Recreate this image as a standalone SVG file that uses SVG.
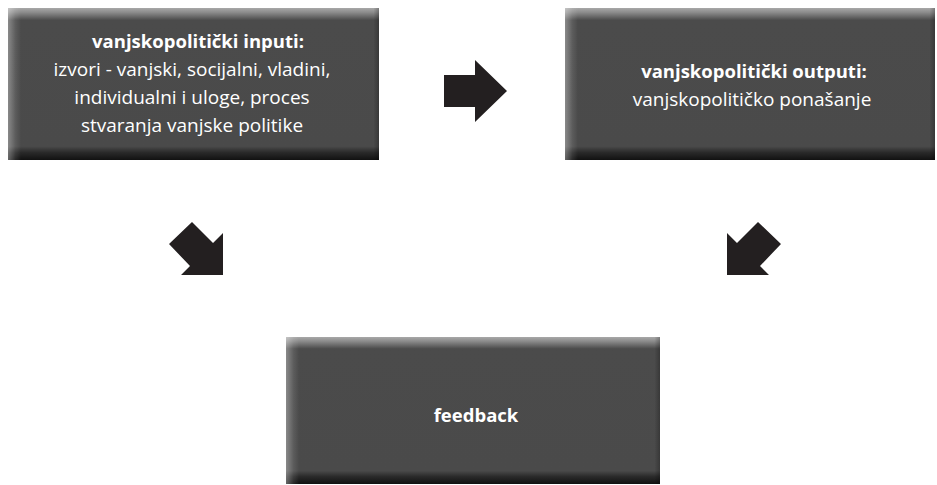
<svg xmlns="http://www.w3.org/2000/svg" width="937" height="485" viewBox="0 0 937 485">
<defs>
<linearGradient id="gv" x1="0" y1="0" x2="0" y2="1">
<stop offset="0" stop-color="#a8a8a8"/>
<stop offset="0.03" stop-color="#8a8a8a"/>
<stop offset="0.08" stop-color="#4b4b4b"/>
<stop offset="0.91" stop-color="#4a4a4a"/>
<stop offset="0.95" stop-color="#2a2a2a"/>
<stop offset="1" stop-color="#111111"/>
</linearGradient>
<linearGradient id="gh" x1="0" y1="0" x2="1" y2="0">
<stop offset="0" stop-color="#ffffff" stop-opacity="0.35"/>
<stop offset="0.02" stop-color="#ffffff" stop-opacity="0.1"/>
<stop offset="0.035" stop-color="#ffffff" stop-opacity="0"/>
<stop offset="0.985" stop-color="#000000" stop-opacity="0"/>
<stop offset="1" stop-color="#000000" stop-opacity="0.25"/>
</linearGradient>
</defs>
<style>
.box{fill:url(#gv)}
.sh{fill:url(#gh)}
.t{font-family:"Open Sans","Noto Sans",sans-serif;fill:#ffffff;text-anchor:middle;font-size:19px}
.b{font-weight:bold;font-size:18.5px}
.arr{fill:#231f20}
</style>
<g id="node-inputs">
<rect class="box" x="8" y="8" width="371" height="152"/>
<rect class="sh" x="8" y="8" width="371" height="152"/>
<text class="t b" x="198" y="48">vanjskopolitički  inputi:</text>
<text class="t" x="192" y="76">izvori - vanjski, socijalni, vladini,</text>
<text class="t" x="192" y="104">individualni i uloge, proces</text>
<text class="t" x="192" y="132">stvaranja vanjske politike</text>
</g>
<g id="node-outputs">
<rect class="box" x="565" y="8" width="370" height="152"/>
<rect class="sh" x="565" y="8" width="370" height="152"/>
<text class="t b" x="754" y="78">vanjskopolitički  outputi:</text>
<text class="t" x="752" y="106">vanjskopolitičko ponašanje</text>
</g>
<g id="node-feedback">
<rect class="box" x="286" y="337" width="374" height="147"/>
<rect class="sh" x="286" y="337" width="374" height="147"/>
<text class="t b" x="476" y="422">feedback</text>
</g>
<g id="connectors">
<polygon class="arr" points="444,75 475,75 475,60 507,91 475,122 475,107 444,107"/>
<polygon class="arr" points="169,244 192,222 213,243 223,233 223,275 181,275 190,266"/>
<polygon class="arr" points="781,244 758,222 737,243 727,233 727,275 769,275 760,266"/>
</g>
</svg>
